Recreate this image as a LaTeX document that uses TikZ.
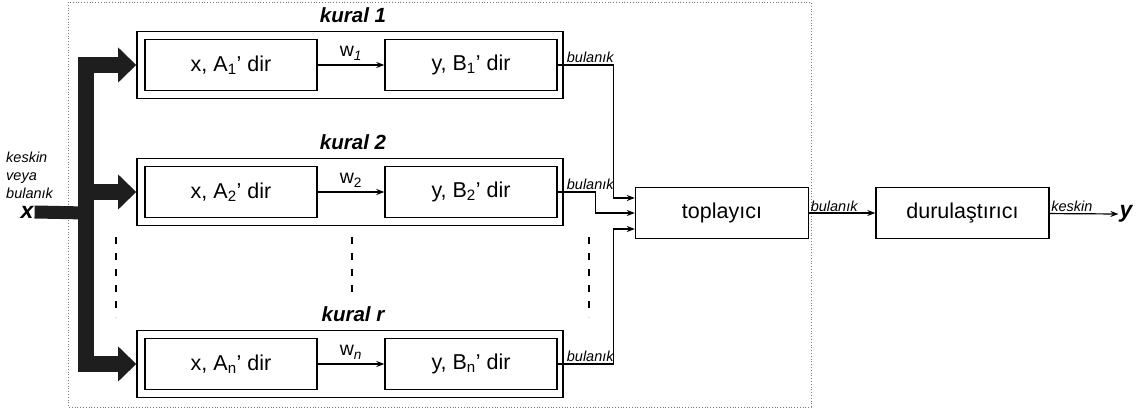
\documentclass[tikz,border=0pt]{standalone}
\usepackage{fontspec}
\setmainfont{Liberation Sans}
\usepackage{tikz}
\usetikzlibrary{arrows.meta}
\definecolor{Cb}{RGB}{30,30,30}
\definecolor{Cg}{RGB}{120,120,120}

\tikzset{
  rulebox/.style={draw,line width=1.6pt,minimum width=426pt,minimum height=67pt,inner sep=0pt},
  partbox/.style={draw,line width=1.4pt,minimum width=172pt,minimum height=51pt,inner sep=0pt,
    font=\fontsize{21.5}{24}\selectfont},
  link/.style={line width=1.2pt,-{Stealth[length=8pt,width=6pt]}},
  bus/.style={Cb,line width=16.5pt,line join=miter},
  bustip/.style={-{Triangle[width=35pt,length=18pt,line width=0pt]}},
  smalltext/.style={font=\fontsize{14.5}{18}\selectfont\itshape,inner sep=1pt},
  rulename/.style={font=\fontsize{20.5}{24}\selectfont\bfseries\itshape},
  gap/.style={line width=1.2pt,dash pattern=on 7pt off 9pt}
}

\begin{document}
\begin{tikzpicture}[x=1pt,y=-1pt]
    \useasboundingbox (0,0) rectangle (1144,411);
    \draw[Cg,dotted,line width=0.8pt] (68,2) rectangle (811,407);
    % the r rules
    \foreach \i/\y/\k/\s/\ws in {1/65/1/1/\textit{1},2/192/2/2/2,n/364/r/n/\textit{n}}{
      \node[rulebox] (R\i) at (350,\y) {};
      \node[partbox] (A\i) at (231,\y) {x, A\textsubscript{\s}' dir};
      \node[partbox] (B\i) at (471,\y) {y, B\textsubscript{\s}' dir};
      \node[rulename] (K\i) at (353,\y-50) {kural \k};
      \draw[link] (A\i) -- (B\i)
        node[midway,above=1pt,font=\fontsize{19.5}{22}\selectfont] {w\textsubscript{\ws}};
      \node[smalltext,anchor=south west] (F\i) at ([xshift=8pt,yshift=1pt]B\i.east) {bulanık};
    }
    \node[partbox,minimum width=173pt] (sum) at (722,213) {toplayıcı};
    \node[partbox,minimum width=173pt] (defz) at (962.5,213) {durulaştırıcı};
    \node[font=\fontsize{23}{26}\selectfont\bfseries\itshape,inner sep=1pt] (yout) at (1126,214) {y};
    \node[font=\fontsize{23}{26}\selectfont\bfseries\itshape,inner sep=1pt] (xin) at (27,212) {x};
    \node[smalltext,align=left,anchor=west,font=\fontsize{14.5}{18}\selectfont\itshape] (inlab) at (5,175)
      {keskin\\veya\\bulanık};
    % thick input bus
    \coordinate (bustop) at (86,65);
    \coordinate (busbot) at (86,364);
    \draw[bus,line width=13pt] (xin.east) -- (86,213);
    \draw[bus,bustip] (bustop) -- (R1.west);
    \draw[bus,bustip] (busbot) -- (Rn.west);
    \draw[bus,line cap=rect] (bustop) -- (busbot);
    \draw[bus,bustip] (bustop |- R2.west) -- (R2.west);
    % rules to the sum
    \draw[link] (B1.east) -- ++(56,0) |- ([yshift=15pt]sum.west);
    \draw[link] (B2.east) -- ++(38,0) |- (sum.west);
    \draw[link] (Bn.east) -- ++(56,0) |- ([yshift=-16pt]sum.west);
    \draw[link] (sum) -- (defz) node[pos=0,smalltext,anchor=south west] (f0) {bulanık};
    \draw[link] (defz) -- (yout.west) node[pos=0,smalltext,anchor=south west] (k0) {keskin};
    % dots between rules
    \draw[gap] (116,237) -- (116,317);
    \draw[gap] (352,237) -- (352,295);
    \draw[gap] (589,237) -- (589,317);
  \end{tikzpicture}
\end{document}
